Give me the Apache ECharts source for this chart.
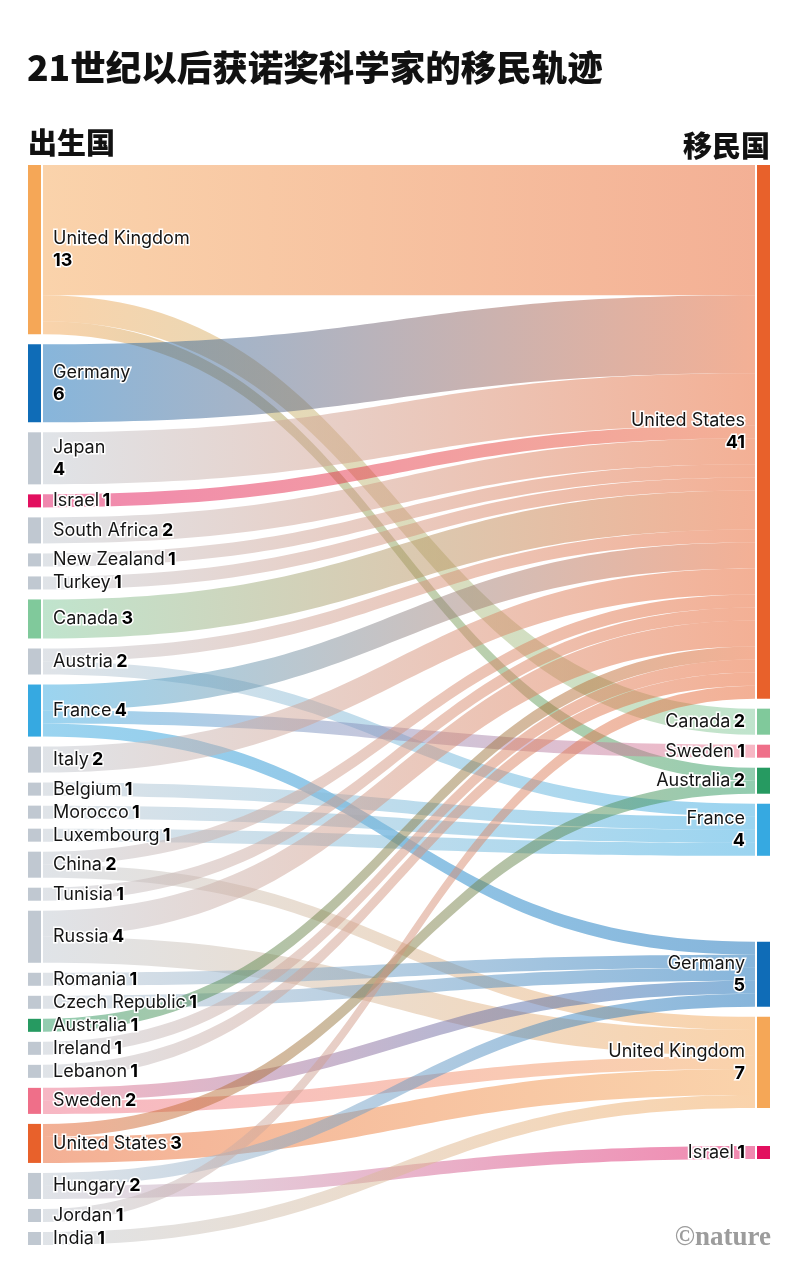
<!DOCTYPE html>
<html>
<head>
<meta charset="utf-8">
<script src="https://cdn.jsdelivr.net/npm/echarts@6/dist/echarts.min.js"></script>
<style>
html,body{margin:0;padding:0;background:#fff;}
#chart{width:800px;height:1267px;}
</style>
</head>
<body>
<div id="chart"></div>
<script>
// ---------- DATA ----------
const birthCountries = ["United Kingdom","Germany","Japan","Israel","South Africa","New Zealand","Turkey","Canada","Austria","France","Italy","Belgium","Morocco","Luxembourg","China","Tunisia","Russia","Romania","Czech Republic","Australia","Ireland","Lebanon","Sweden","United States","Hungary","Jordan","India"];
const hostCountries = ["United States","Canada","Sweden","Australia","France","Germany","United Kingdom","Israel"];
// [birth country, host country, number of laureates]
const migrations = [
  ["United Kingdom","United States",10],["United Kingdom","Canada",2],["United Kingdom","Australia",1],
  ["Germany","United States",6],["Japan","United States",4],["Israel","United States",1],
  ["South Africa","United States",2],["New Zealand","United States",1],["Turkey","United States",1],
  ["Canada","United States",3],["Austria","United States",1],["Austria","France",1],
  ["France","United States",2],["France","Sweden",1],["France","Germany",1],
  ["Italy","United States",2],["Belgium","France",1],["Morocco","France",1],["Luxembourg","France",1],
  ["China","United States",1],["China","United Kingdom",1],["Tunisia","United States",1],
  ["Russia","United States",2],["Russia","United Kingdom",2],
  ["Romania","Germany",1],["Czech Republic","Germany",1],["Australia","United States",1],
  ["Ireland","United States",1],["Lebanon","United States",1],
  ["Sweden","Germany",1],["Sweden","United Kingdom",1],
  ["United States","Australia",1],["United States","United Kingdom",2],
  ["Hungary","Germany",1],["Hungary","Israel",1],["Jordan","United States",1],["India","United Kingdom",1]
];
const titleText = "21世纪以后获诺奖科学家的移民轨迹";
const leftHeader = "出生国";
const rightHeader = "移民国";
const creditText = "©nature";

// ---------- STYLE / LAYOUT ----------
const countryColor = {
  "United Kingdom":"#f5a757","United States":"#e8612b","Germany":"#0f6cb7","France":"#36a9e1",
  "Canada":"#80c99b","Australia":"#269a61","Sweden":"#ef6f89","Israel":"#e2105f"
};
const neutralColor = "#c0c8d1";
const twoLineLeft = ["United Kingdom","Germany","Japan"];
const twoLineRight = ["United States","France","Germany","United Kingdom"];
// extra vertical spacing (px) inserted above some destination nodes
const extraGapAbove = {"Germany":76, "Israel":28};

const SERIES_TOP = 165, SERIES_H = 1080, NODE_GAP = 10, NODE_W = 15;
const LEFT = 28, RIGHT = 30;

const colorOf = c => countryColor[c] || neutralColor;
const L = c => "L|" + c, R = c => "R|" + c;

function nodeFill(c, side) {
  const col = colorOf(c);
  const cut = 13 / NODE_W;
  const stops = side === 'L'
    ? [{offset:0,color:col},{offset:cut,color:col},{offset:cut,color:'#fff'},{offset:1,color:'#fff'}]
    : [{offset:0,color:'#fff'},{offset:1-cut,color:'#fff'},{offset:1-cut,color:col},{offset:1,color:col}];
  return {type:'linear', x:0, y:0, x2:1, y2:0, colorStops:stops};
}

const sum = (arr) => arr.reduce((a,b)=>a+b,0);
const outTotal = c => sum(migrations.filter(m=>m[0]===c).map(m=>m[2]));
const inTotal = c => sum(migrations.filter(m=>m[1]===c).map(m=>m[2]));
const grand = sum(migrations.map(m=>m[2]));
const ky = (SERIES_H - (birthCountries.length - 1) * NODE_GAP) / grand;

// destination node vertical placement: stacked with gap + extra spacing
const destLocalY = {};
let acc = 0;
hostCountries.forEach(c => {
  acc += (extraGapAbove[c] || 0);
  destLocalY[c] = acc / SERIES_H;
  acc += inTotal(c) * ky + NODE_GAP;
});

function labelFor(c, value, side) {
  const two = side === 'L' ? twoLineLeft.includes(c) : twoLineRight.includes(c);
  return '{n|' + c + '}' + (two ? '\n' : ' ') + '{v|' + value + '}';
}

const richBase = {
  n: {fontFamily:'Inter', fontSize:18, color:'#151515', lineHeight:22, textBorderColor:'#fff', textBorderWidth:3},
  v: {fontFamily:'Inter', fontSize:18, fontWeight:'bold', color:'#000', lineHeight:22, textBorderColor:'#fff', textBorderWidth:3}
};

const nodes = [];
birthCountries.forEach(c => {
  nodes.push({
    name: L(c),
    itemStyle: {color: nodeFill(c,'L')},
    label: {position:'right', distance:10, formatter: labelFor(c, outTotal(c), 'L'), rich: richBase}
  });
});
hostCountries.forEach(c => {
  nodes.push({
    name: R(c),
    localY: destLocalY[c],
    itemStyle: {color: nodeFill(c,'R')},
    label: {position:'left', distance:10, align:'right', formatter: labelFor(c, inTotal(c), 'R'), rich: richBase}
  });
});

const links = migrations.map(m => ({
  source: L(m[0]), target: R(m[1]), value: m[2],
  lineStyle: {
    color: {type:'linear', x:0, y:0, x2:1, y2:0,
      colorStops:[{offset:0,color:colorOf(m[0])},{offset:1,color:colorOf(m[1])}]},
    opacity: 0.5
  }
}));

const chart = echarts.init(document.getElementById('chart'), null, {renderer:'canvas'});
chart.setOption({
  backgroundColor:'#fff',
  animation:false,
  title:[
    {text:titleText, left:27, top:50, padding:0, textStyle:{fontFamily:'Noto Sans CJK SC', fontSize:35.5, fontWeight:900, color:'#111'}},
    {text:leftHeader, left:28, top:128, padding:0, textStyle:{fontFamily:'Noto Sans CJK SC', fontSize:29, fontWeight:900, color:'#111'}},
    {text:rightHeader, right:30, top:131, padding:0, textStyle:{fontFamily:'Noto Sans CJK SC', fontSize:29, fontWeight:900, color:'#111'}},
    {text:creditText, right:29, top:1225, padding:0, textStyle:{fontFamily:'Liberation Serif', fontSize:27, fontWeight:'bold', color:'#9c9c9c'}}
  ],
  series:[{
    type:'sankey',
    left:LEFT, right:RIGHT, top:SERIES_TOP, height:SERIES_H,
    nodeWidth:NODE_W, nodeGap:NODE_GAP,
    layoutIterations:0,
    nodeAlign:'justify',
    draggable:false,
    emphasis:{disabled:true},
    data:nodes,
    links:links,
    lineStyle:{curveness:0.5, opacity:0.5},
    label:{show:true}
  }]
});
</script>
</body>
</html>
